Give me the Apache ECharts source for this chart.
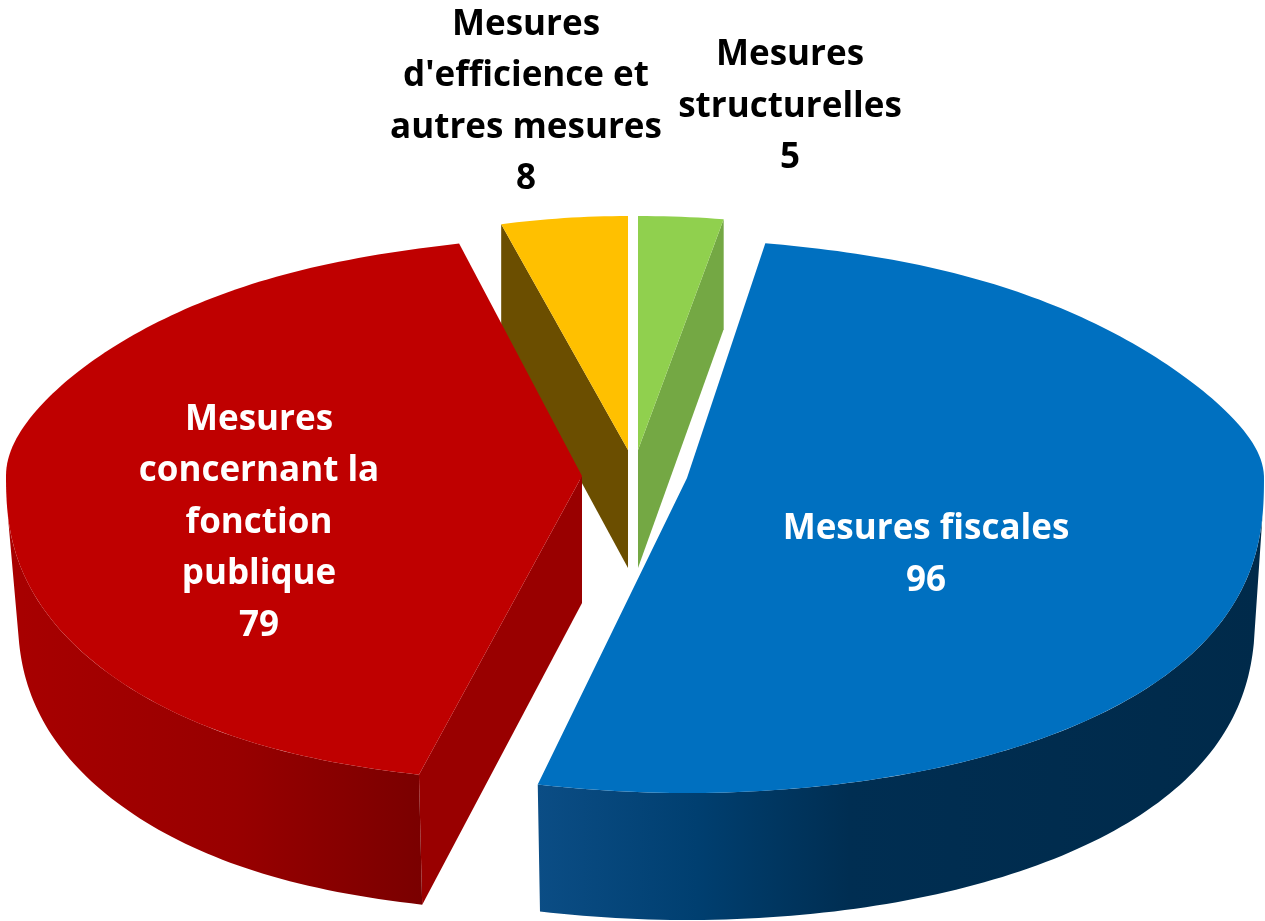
<!DOCTYPE html>
<html><head><meta charset="utf-8">
<style>html,body{margin:0;padding:0;background:#fff}#c{width:1265px;height:921px}</style>
<script src="https://cdn.jsdelivr.net/npm/echarts@6/dist/echarts.min.js"></script>
</head><body><div id="c"></div>
<script>
const categories = ["Mesures\nstructurelles","Mesures fiscales","Mesures\nconcernant la\nfonction\npublique","Mesures\nd'efficience et\nautres mesures"];
const values = [5,96,79,8];

const total = values.reduce((a,b)=>a+b,0);
const looks = [
 {cx:638,cy:450,a:515,bB:234,bF:234,kB:0,kT:0,kF:0,k6:0,d:118,dEnd:110,m:1,top:'#90d04e',cut:'#74a844',cutEnd:true,lx:790,ly:107,tc:'#000'},
 {cx:687,cy:478,a:577,bB:238,bF:315,kB:0.09,kT:0.125,kF:0.12,k6:0,d:127,dEnd:127,m:0.985,top:'#0070c0',
  wall:[[0,'#0b4d85'],[0.22,'#003f70'],[0.43,'#002e52'],[1,'#002a4a']],lx:926,ly:555,tc:'#fff'},
 {cx:582,cy:476,a:576,bB:241,bF:307,kB:0.055,kT:0.285,kF:0.115,k6:0.13,d:127,dEnd:130,m:0.98,top:'#bf0000',
  wall:[[0,'#a80000'],[0.55,'#980000'],[1,'#7a0000']],cut:'#990000',lx:259,ly:523,tc:'#fff'},
 {cx:628,cy:450,a:480,bB:234,bF:234,kB:0,kT:0,kF:0,k6:0,d:118,dEnd:110,m:1,top:'#ffc000',cut:'#6b4e00',lx:526,ly:102,tc:'#000'}
];
const drawOrder = [3,0,2,1];
const D = Math.PI/180;
function renderItem(params, api){
  const i = api.value(1);
  const g = looks[i];
  let before = 0; for(let j=0;j<i;j++) before += values[j];
  const t0 = before/total*360, t1 = (before+api.value(0))/total*360;
  const P = (t,dz,m)=>{
    const u=Math.sin(t*D), v=Math.cos(t*D), w=Math.abs(v);
    const mult = v>0 ? 1-g.kB*1.25*(w*w/(w*w+0.25))-g.kT*Math.pow(w,20) : 1+g.kF*1.4*(w*w/(w+0.4))+g.k6*Math.pow(w,6);
    const dy = v>0 ? -g.bB*w : g.bF*w;
    return [g.cx+g.a*u*mult*(m||1), g.cy+dy+(dz||0)];
  };
  const arc=(a,b,dz,m)=>{const n=Math.max(2,Math.ceil(Math.abs(b-a)));const r=[];for(let s=0;s<=n;s++)r.push(P(a+(b-a)*s/n,dz,m));return r;};
  const children=[];
  const apex=[g.cx,g.cy];
  if(g.cut){
    const e=P(g.cutEnd? t1 : t0,0);
    const e2=P(g.cutEnd? t1 : t0,g.dEnd,g.m);
    children.push({type:'polygon',shape:{points:[e,apex,[apex[0],apex[1]+g.d],e2]},style:{fill:g.cut}});
  }
  if(g.wall){
    const a=Math.max(t0,97), b=Math.min(t1,263);
    if(b>a){
      const pts=arc(a,b,0).concat(arc(b,a,g.dEnd,g.m));
      const xs=pts.map(p=>p[0]);
      const x0=Math.min(...xs), x1=Math.max(...xs);
      children.push({type:'polygon',shape:{points:pts},style:{fill:{type:'linear',x:x0,y:0,x2:x1,y2:0,global:true,
        colorStops:g.wall.map(s=>({offset:s[0],color:s[1]}))}}});
    }
  }
  children.push({type:'polygon',shape:{points:[apex].concat(arc(t0,t1,0))},style:{fill:g.top}});
  children.push({type:'text',z2:10,style:{text:categories[i]+"\n"+api.value(0),x:g.lx,y:g.ly,align:'center',verticalAlign:'middle',fill:g.tc,font:'bold 35px "Open Sans"',lineHeight:51.5}});
  return {type:'group',children};
}
const chart = echarts.init(document.getElementById('c'),null,{renderer:'canvas'});
chart.setOption({
  animation:false,
  backgroundColor:'#fff',
  series:[{type:'custom',coordinateSystem:'none',renderItem,
    data:drawOrder.map(i=>[values[i],i])}]
});
</script></body></html>
